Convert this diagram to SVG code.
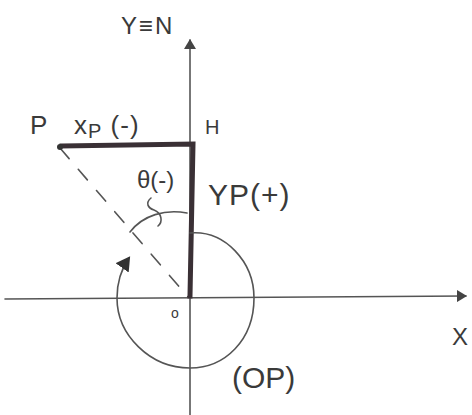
<svg xmlns="http://www.w3.org/2000/svg" width="472" height="415" viewBox="0 0 472 415">
<style>
.t{font-family:"Liberation Sans",Arial,sans-serif;fill:#3a3a3a}
.thin{stroke:#555;stroke-width:1.6;fill:none;stroke-linecap:round}
.thick{stroke:#3a3035;stroke-width:5;fill:none;stroke-linecap:square}
</style>
<defs>
<marker id="ah" markerWidth="12" markerHeight="12" refX="9" refY="6" orient="auto" markerUnits="userSpaceOnUse">
<path d="M0,0 L10,6 L0,12 Z" fill="#444"/>
</marker>
<marker id="ah2" markerWidth="18" markerHeight="18" refX="12" refY="8" orient="auto" markerUnits="userSpaceOnUse">
<path d="M0,0 L14,8 L0,16 Z" fill="#333"/>
</marker>
</defs>
<rect width="472" height="415" fill="#fff"/>
<g id="connectors">
<path class="thin" d="M190,415 L190,40" marker-end="url(#ah)"/>
<path class="thin" d="M5,299 L466,296" marker-end="url(#ah)"/>
<path class="thin" d="M60,148 L188,297" stroke-dasharray="14,14"/>
<path class="thick" d="M62,146 L193,144 L190,296"/>
<path class="thin" d="M190,233 C225,230 254,262 254,298 C254,340 225,368 190,368 C150,368 117,335 117,298 C117,282 122,268 129,258" marker-end="url(#ah2)"/>
<path class="thin" d="M187,213 C165,209 143,215 130,232"/>
<path class="thin" d="M151,198 C145,203 148,208 154,210 C162,213 163,222 158,226"/>
</g>
<g id="P"><circle cx="60" cy="147" r="3" fill="#333"/><text class="t" x="30" y="134" font-size="26">P</text></g>
<g id="xp"><text class="t" x="74" y="134" font-size="26" letter-spacing="1">x<tspan font-size="20" dy="4">P</tspan><tspan dy="-4"> (-)</tspan></text></g>
<g id="H"><text class="t" x="205" y="134" font-size="20">H</text></g>
<g id="YN"><text class="t" x="121" y="34" font-size="24" letter-spacing="2">Y≡N</text></g>
<g id="theta"><text class="t" x="137" y="188" font-size="24">θ(-)</text></g>
<g id="yp"><text class="t" x="208" y="205" font-size="30" letter-spacing="1">YP(+)</text></g>
<g id="O"><text class="t" x="171" y="318" font-size="14">o</text></g>
<g id="X"><text class="t" x="452" y="345" font-size="24">X</text></g>
<g id="OP"><text class="t" x="232" y="388" font-size="30">(OP)</text></g>
</svg>
